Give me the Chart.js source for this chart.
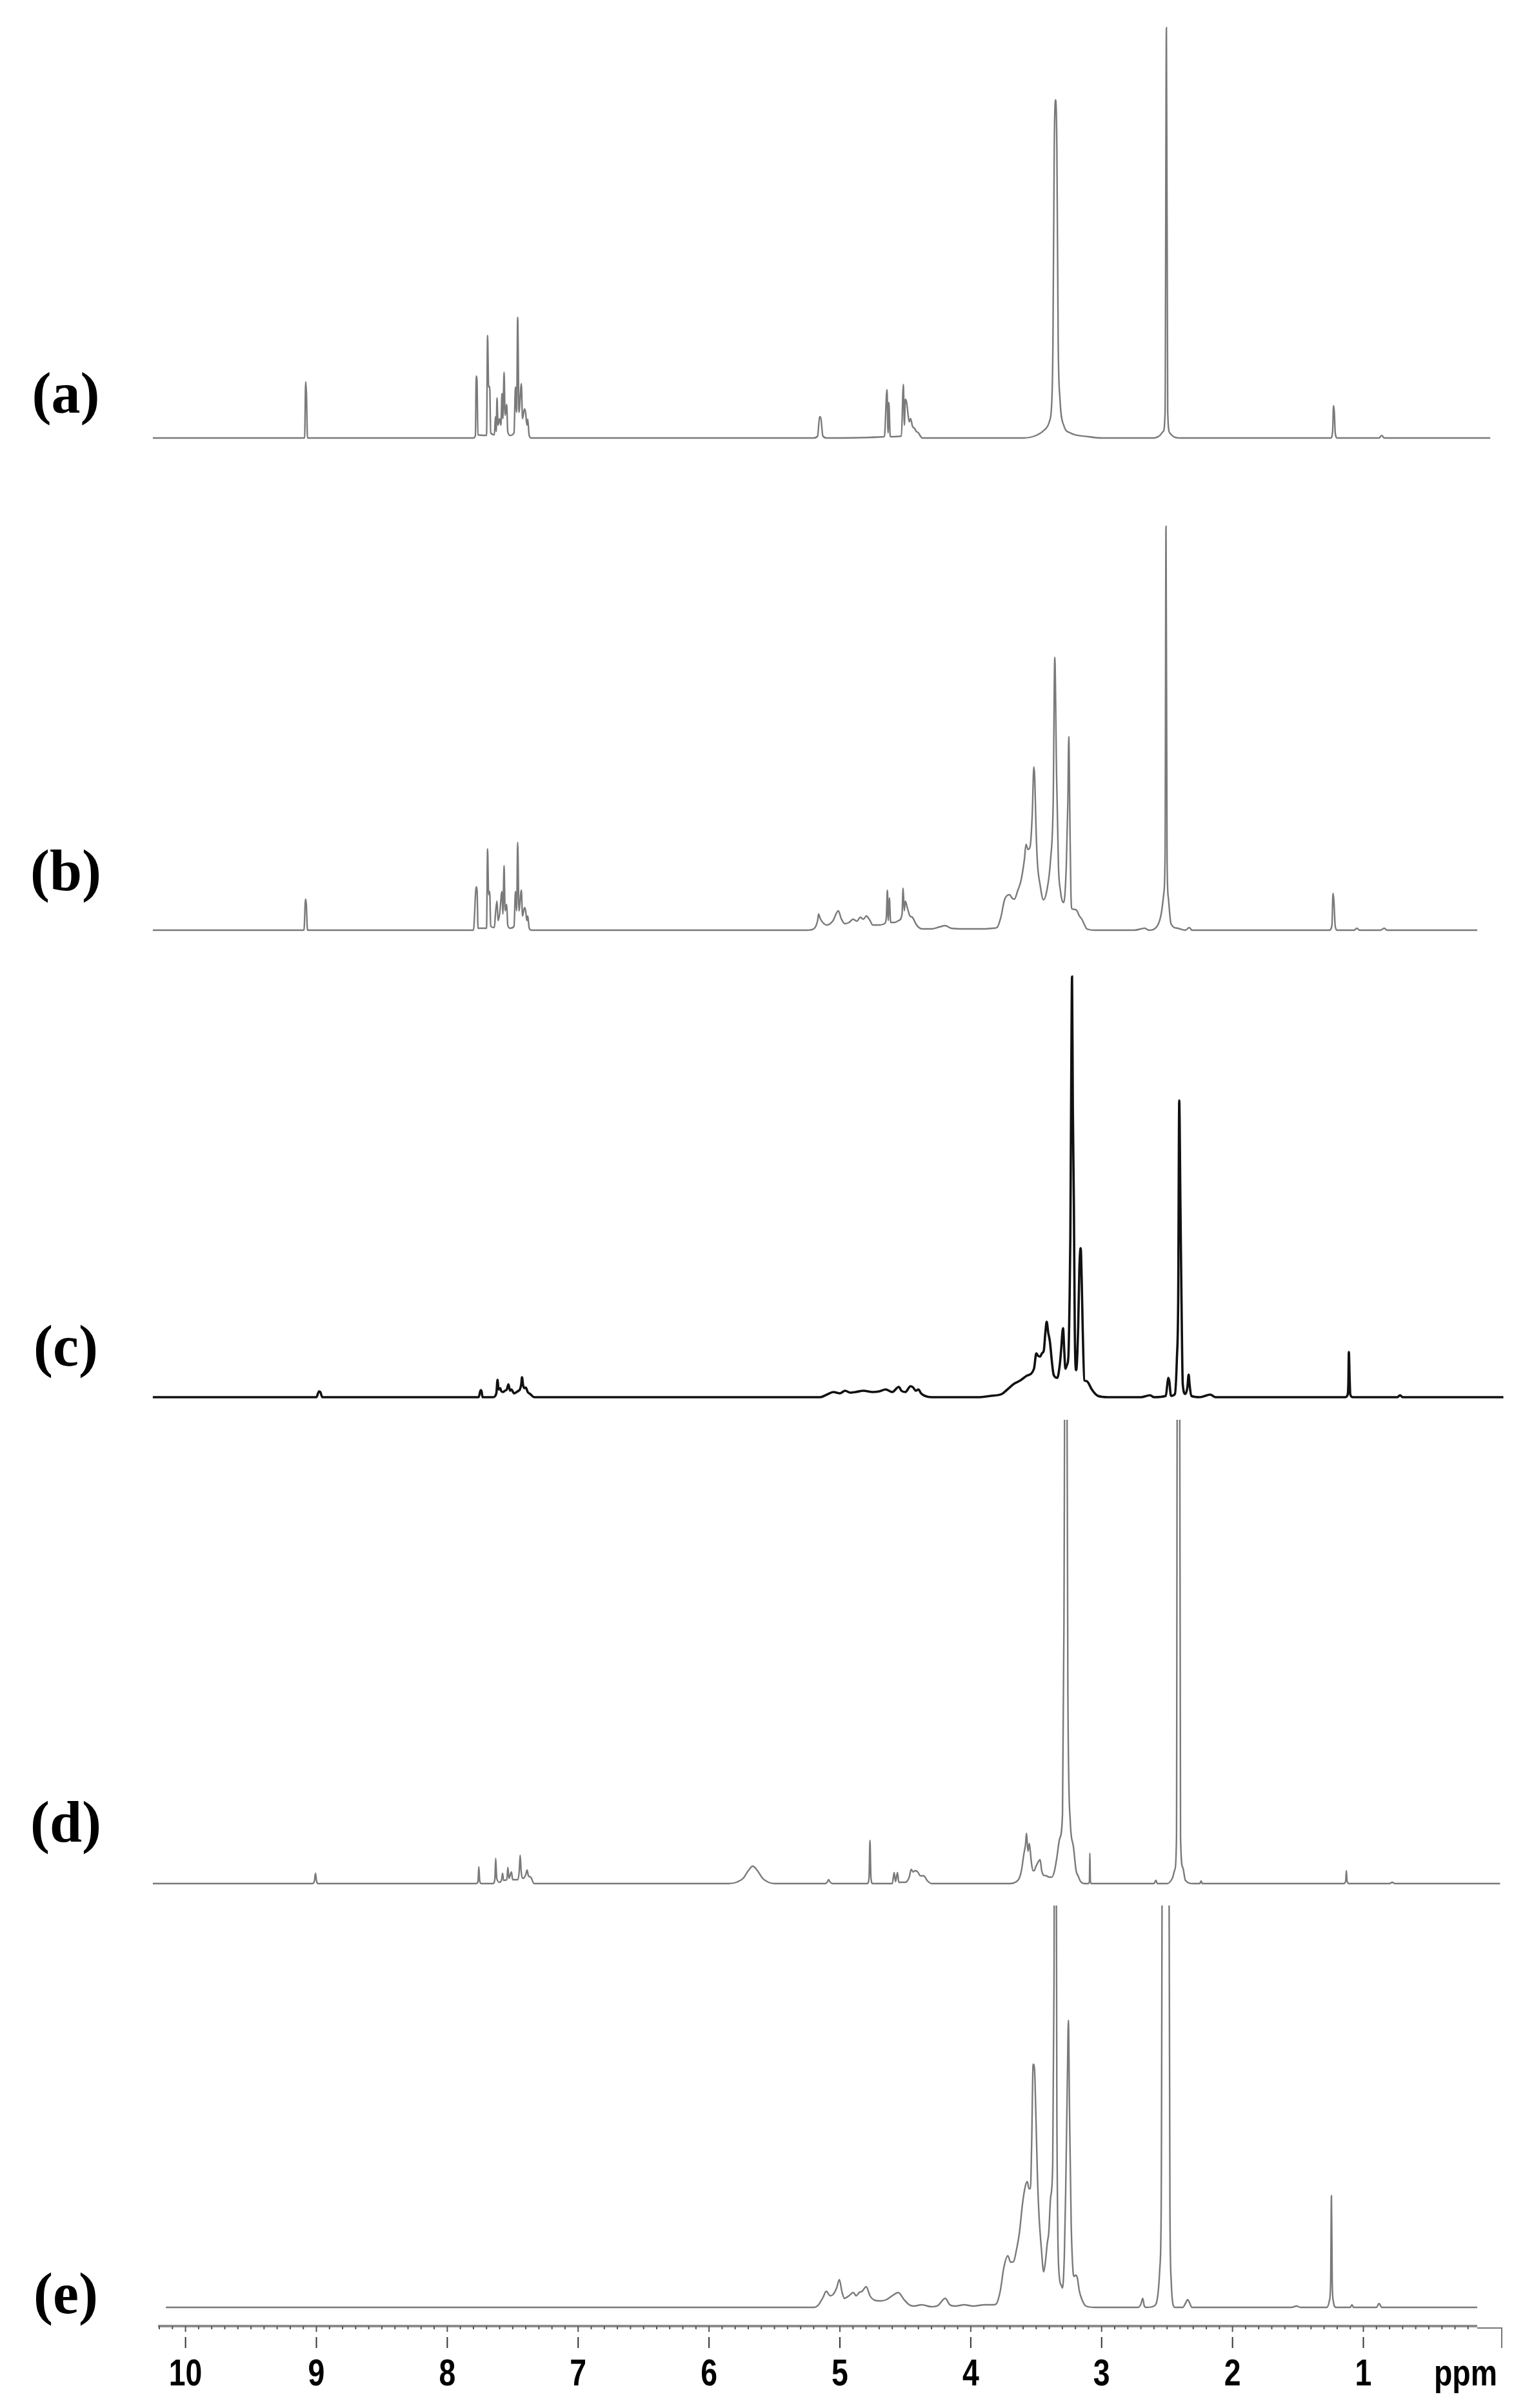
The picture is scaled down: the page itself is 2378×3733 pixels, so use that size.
<!DOCTYPE html>
<html>
<head>
<meta charset="utf-8">
<script src="https://cdn.jsdelivr.net/npm/chart.js@4"></script>
<style>
  html, body { margin: 0; padding: 0; background: #fff; }
  #wrap { width: 2378px; height: 3733px; }
</style>
</head>
<body>
<div id="wrap"><canvas id="nmr" width="2378" height="3733"></canvas></div>
<script>
// ppm / intensity pairs (intensity in image px above its baseline)
const specA = [
  [10.25,0],[9.09,0],[9.082,87],[9.076,68],[9.068,0],
  [7.80,0],[7.785,4],[7.779,96],[7.773,90],[7.766,5],
  [7.70,4],[7.692,159],[7.684,79],[7.676,80],[7.668,8],
  [7.64,5],[7.632,33],[7.626,10],[7.620,62],[7.612,20],[7.600,30],[7.590,20],[7.582,69],[7.575,30],[7.566,102],[7.558,35],[7.546,52],[7.538,10],
  [7.52,4],[7.49,8],[7.479,79],[7.470,40],[7.462,187],[7.452,40],[7.434,84],[7.425,30],[7.410,45],[7.401,39],[7.392,20],[7.385,29],[7.375,5],[7.36,0],
  [5.20,0],[5.17,3],[5.155,33],[5.145,30],[5.13,3],[5.10,0],
  [4.66,2],[4.64,75],[4.632,8],[4.626,55],[4.615,2],
  [4.53,3],[4.515,83],[4.507,20],[4.500,60],[4.490,55],[4.480,38],[4.470,25],[4.460,30],[4.445,18],[4.43,15],[4.415,10],[4.40,8],[4.385,3],[4.37,0],
  [3.60,0],[3.50,4],[3.44,12],[3.40,25],[3.38,60],[3.372,150],[3.362,450],[3.352,524],[3.342,450],[3.332,150],[3.318,60],[3.29,20],[3.24,8],[3.10,2],[3.0,0],
  [2.60,0],[2.56,3],[2.53,10],[2.515,40],[2.505,636],[2.495,40],[2.48,8],[2.45,2],[2.40,0],
  [1.25,0],[1.235,10],[1.228,50],[1.222,40],[1.215,8],[1.20,0],
  [0.88,0],[0.86,4],[0.84,0],[0.03,0]
];

const specB = [
  [10.25,0],[9.095,0],[9.083,48],[9.077,40],[9.068,0],
  [7.80,0],[7.779,67],[7.772,60],[7.765,3],
  [7.70,3],[7.692,126],[7.684,55],[7.676,60],[7.668,6],
  [7.64,4],[7.632,25],[7.620,45],[7.612,15],[7.600,25],[7.582,60],[7.575,25],[7.566,100],[7.558,30],[7.546,40],[7.538,8],
  [7.52,3],[7.49,6],[7.479,60],[7.470,30],[7.462,136],[7.452,30],[7.434,62],[7.425,22],[7.410,35],[7.401,30],[7.392,15],[7.385,22],[7.375,4],[7.36,0],
  [5.25,0],[5.20,2],[5.17,15],[5.163,25],[5.15,18],[5.131,12],[5.101,8],[5.055,14],[5.012,30],[4.99,18],[4.962,10],[4.93,12],[4.899,17],[4.87,14],[4.844,20],[4.82,17],[4.798,22],[4.77,15],[4.749,8],[4.698,8],
  [4.66,10],[4.645,20],[4.637,62],[4.630,15],[4.622,50],[4.612,12],[4.58,12],[4.55,15],[4.525,25],[4.517,65],[4.508,30],[4.500,45],[4.485,35],[4.465,22],[4.446,20],[4.42,10],[4.396,4],[4.37,2],
  [4.30,2],[4.24,5],[4.195,7],[4.15,3],[4.05,2],[3.90,2],[3.83,3],
  [3.80,4],[3.77,20],[3.742,47],[3.704,55],[3.685,50],[3.667,48],[3.64,62],[3.616,77],[3.59,110],[3.578,133],[3.562,125],[3.546,130],[3.53,180],[3.518,253],[3.512,240],[3.50,150],[3.490,103],[3.47,70],[3.445,47],
  [3.42,60],[3.39,110],[3.37,200],[3.358,423],[3.345,250],[3.33,100],[3.314,60],[3.30,45],[3.289,43],[3.27,100],[3.258,200],[3.251,300],[3.243,180],[3.235,60],[3.226,33],[3.20,32],[3.188,30],[3.17,22],[3.151,17],[3.13,8],[3.113,2],[3.05,0],
  [2.75,0],[2.67,3],[2.64,0],[2.58,5],[2.545,25],[2.525,57],[2.515,120],[2.508,626],[2.50,110],[2.49,50],[2.47,10],[2.42,3],[2.36,0],[2.33,4],[2.31,0],
  [1.26,0],[1.24,8],[1.232,57],[1.225,45],[1.215,6],[1.20,0],[1.07,0],[1.05,3],[1.03,0],[0.87,0],[0.84,3],[0.82,0],[0.13,0]
];

const specC = [
  [10.25,0],[9.00,0],[8.980,9],[8.970,8],[8.955,0],
  [7.76,0],[7.745,11],[7.738,9],[7.73,0],
  [7.65,0],[7.625,6],[7.616,27],[7.608,12],[7.595,14],[7.589,10],[7.575,8],[7.560,10],[7.545,12],[7.533,20],[7.52,10],[7.510,12],[7.49,6],[7.470,8],[7.455,10],[7.445,12],[7.435,20],[7.429,31],[7.42,18],[7.410,14],[7.400,15],[7.385,8],[7.367,5],[7.334,0],
  [5.15,0],[5.10,4],[5.05,8],[5.00,6],[4.96,10],[4.92,7],[4.88,8],[4.82,10],[4.75,8],[4.70,9],[4.65,12],[4.60,8],[4.55,16],[4.53,10],[4.50,8],[4.46,17],[4.44,15],[4.42,10],[4.40,12],[4.38,6],[4.35,2],[4.30,0],
  [3.95,0],[3.85,2],[3.762,5],[3.72,12],[3.668,21],[3.621,26],[3.574,33],[3.517,44],[3.499,68],[3.485,64],[3.470,63],[3.456,68],[3.442,72],[3.430,100],[3.420,117],[3.408,100],[3.395,86],[3.38,55],[3.367,35],[3.339,30],
  [3.32,50],[3.310,72],[3.295,107],[3.285,70],[3.277,44],[3.265,50],[3.254,63],[3.245,150],[3.239,250],[3.232,500],[3.226,652],[3.220,450],[3.212,300],[3.205,100],[3.194,42],[3.185,70],[3.179,110],[3.170,200],[3.160,231],[3.152,180],[3.145,110],[3.132,26],[3.115,25],[3.104,23],[3.075,12],[3.028,2],[2.95,0],
  [2.70,0],[2.63,3],[2.60,0],[2.51,2],[2.495,25],[2.49,30],[2.483,25],[2.47,2],[2.44,5],[2.425,60],[2.415,150],[2.407,460],[2.398,300],[2.390,156],[2.38,20],[2.36,5],[2.345,15],[2.335,35],[2.328,20],[2.315,2],[2.25,0],[2.17,4],[2.13,0],
  [1.14,0],[1.12,4],[1.115,20],[1.111,70],[1.105,30],[1.10,4],[1.08,0],[0.74,0],[0.72,3],[0.70,0],[-0.07,0]
];

const specD = [
  [10.25,0],[9.03,0],[9.015,4],[9.007,16],[9.0,5],[8.99,0],
  [7.78,0],[7.765,3],[7.759,26],[7.752,4],[7.74,0],
  [7.65,0],[7.636,8],[7.630,39],[7.622,8],[7.60,2],[7.585,6],[7.577,16],[7.57,5],[7.545,6],[7.537,25],[7.528,8],[7.510,18],[7.50,6],[7.46,6],[7.450,20],[7.443,44],[7.435,18],[7.42,8],[7.40,14],[7.390,21],[7.380,12],[7.363,10],[7.336,0],
  [5.85,0],[5.79,2],[5.74,8],[5.70,20],[5.666,27],[5.63,20],[5.59,8],[5.546,2],[5.50,0],
  [5.11,0],[5.095,3],[5.086,6],[5.077,3],[5.06,0],
  [4.79,0],[4.777,10],[4.770,67],[4.763,10],[4.75,0],
  [4.60,0],[4.585,17],[4.575,3],[4.56,17],[4.55,2],[4.50,2],[4.47,10],[4.455,22],[4.44,18],[4.425,20],[4.405,18],[4.385,12],[4.36,12],[4.33,4],[4.30,0],
  [3.70,0],[3.66,2],[3.63,8],[3.613,20],[3.595,45],[3.582,60],[3.574,78],[3.563,50],[3.553,62],[3.545,50],[3.538,35],[3.525,20],[3.515,20],[3.505,25],[3.494,30],[3.48,35],[3.470,37],[3.458,20],[3.443,13],[3.42,12],[3.404,10],
  [3.38,10],[3.36,20],[3.344,38],[3.32,70],[3.299,108],[3.288,400],[3.279,900],[3.267,900],[3.258,300],[3.24,98],[3.216,58],[3.195,20],[3.18,12],[3.16,3],[3.13,0],
  [3.10,0],[3.093,5],[3.090,47],[3.086,5],[3.08,0],
  [2.60,0],[2.585,5],[2.575,0],
  [2.50,0],[2.46,8],[2.44,22],[2.428,72],[2.421,900],[2.405,900],[2.397,72],[2.38,25],[2.36,5],[2.30,0],[2.25,0],[2.24,4],[2.23,0],
  [1.15,0],[1.135,4],[1.130,20],[1.125,4],[1.11,0],[0.80,0],[0.78,2],[0.76,0],[-0.045,0]
];

const specE = [
  [10.15,0],[5.20,0],[5.167,3],[5.13,15],[5.104,25],[5.075,18],[5.052,20],[5.025,30],[5.004,43],[4.985,25],[4.966,14],[4.93,18],[4.898,23],[4.875,18],[4.853,23],[4.83,25],[4.799,32],[4.77,18],[4.733,11],[4.69,10],[4.644,12],[4.60,18],[4.554,23],[4.51,12],[4.47,4],[4.435,2],[4.375,4],[4.30,1],[4.25,3],[4.195,14],[4.16,4],[4.12,2],[4.05,4],[3.98,2],[3.896,4],[3.83,4],[3.807,5],
  [3.775,25],[3.747,62],[3.717,80],[3.695,70],[3.673,71],[3.65,90],[3.628,116],[3.605,160],[3.583,188],[3.568,195],[3.555,184],[3.544,184],[3.535,250],[3.523,377],[3.513,370],[3.502,295],[3.49,200],[3.478,141],[3.46,90],[3.443,55],
  [3.43,70],[3.415,100],[3.404,116],[3.39,170],[3.374,220],[3.364,500],[3.357,1000],[3.350,1000],[3.342,300],[3.322,45],[3.31,35],[3.299,30],[3.285,80],[3.275,177],[3.262,350],[3.254,445],[3.245,300],[3.233,134],[3.22,60],[3.21,48],[3.198,50],[3.186,46],[3.17,25],[3.150,12],[3.12,2],[3.05,0],
  [2.72,0],[2.70,5],[2.686,14],[2.675,3],[2.66,0],[2.60,2],[2.57,20],[2.555,62],[2.545,150],[2.532,1000],[2.49,1000],[2.478,150],[2.468,40],[2.455,5],[2.44,0],
  [2.38,0],[2.355,8],[2.343,12],[2.33,8],[2.31,0],[1.55,0],[1.51,2],[1.48,0],
  [1.28,0],[1.26,10],[1.25,40],[1.244,173],[1.238,40],[1.23,10],[1.21,0],[1.10,0],[1.087,4],[1.075,0],[0.90,0],[0.88,6],[0.86,0],[0.13,0]
];

const traceLabels = ["(a)", "(b)", "(c)", "(d)", "(e)"];
const xTickValues = [10, 9, 8, 7, 6, 5, 4, 3, 2, 1];
const xTickLabels = ["10", "9", "8", "7", "6", "5", "4", "3", "2", "1"];
const xUnit = "ppm";

// layout (canvas px)
const AREA_TOP = 0;
const AREA_BOTTOM = 3606;
const baselines = [679, 1442, 2166, 2920, 3577];
const clipTops = [null, null, null, 2201, 2954];
const labelY = [617, 1357, 2094, 2832, 3563];
const lineColors = ["#7a7a7a", "#7a7a7a", "#111111", "#7a7a7a", "#7a7a7a"];
const lineWidths = [2.4, 2.4, 3.6, 2.4, 2.4];

const spectra = [specA, specB, specC, specD, specE];

const datasets = spectra.map((spec, i) => ({
  label: traceLabels[i],
  data: spec.map(([x, y]) => ({ x, y })),
  yAxisID: "y" + i,
  showLine: true,
  borderColor: lineColors[i],
  borderWidth: lineWidths[i],
  pointRadius: 0,
  cubicInterpolationMode: "monotone",
  clip: clipTops[i] === null
    ? false
    : { left: false, right: false, bottom: false, top: -(clipTops[i] - AREA_TOP) }
}));

const scales = {
  x: {
    type: "linear",
    reverse: true,
    min: 0.13,
    max: 10.21,
    display: false
  }
};
baselines.forEach((b, i) => {
  scales["y" + i] = {
    type: "linear",
    display: false,
    min: -(AREA_BOTTOM - b),
    max: b - AREA_TOP
  };
});

// condensed bold label, like the original's narrow face
function narrowText(ctx, text, x, y, squeeze) {
  ctx.save();
  ctx.translate(x, y);
  ctx.scale(squeeze, 1);
  ctx.fillText(text, 0, 0);
  ctx.restore();
}

// axis with minor ticks, integer marks and labels, plus the trace tags
const ppmAxis = {
  id: "ppmAxis",
  afterDraw(chart) {
    const ctx = chart.ctx;
    const xs = chart.scales.x;
    const y0 = chart.chartArea.bottom;
    ctx.save();

    ctx.strokeStyle = "#8c8c8c";
    ctx.lineWidth = 4;
    ctx.beginPath();
    ctx.moveTo(xs.left, y0);
    ctx.lineTo(xs.right, y0);
    ctx.stroke();

    ctx.strokeStyle = "#555";
    ctx.lineWidth = 2;
    for (let i = 102; i >= 2; i--) {
      const px = xs.getPixelForValue(i / 10);
      const len = i % 10 === 0 ? 9 : 5;
      ctx.beginPath();
      ctx.moveTo(px, y0);
      ctx.lineTo(px, y0 + len);
      ctx.stroke();
    }

    ctx.strokeStyle = "#333";
    ctx.lineWidth = 2;
    xTickValues.forEach(v => {
      const px = xs.getPixelForValue(v);
      ctx.beginPath();
      ctx.moveTo(px, y0 + 17);
      ctx.lineTo(px, y0 + 34);
      ctx.stroke();
    });

    ctx.fillStyle = "#000";
    ctx.font = "bold 58px 'Liberation Sans', Arial, sans-serif";
    ctx.textAlign = "center";
    ctx.textBaseline = "alphabetic";
    xTickValues.forEach((v, i) => {
      narrowText(ctx, xTickLabels[i], xs.getPixelForValue(v), y0 + 92, 0.8);
    });
    narrowText(ctx, xUnit, 2272, y0 + 92, 0.8);

    // right end bracket
    ctx.strokeStyle = "#777";
    ctx.lineWidth = 2;
    ctx.beginPath();
    ctx.moveTo(xs.right, y0 + 3);
    ctx.lineTo(xs.right + 38, y0 + 3);
    ctx.lineTo(xs.right + 38, y0 + 34);
    ctx.stroke();

    ctx.font = "bold 90px 'Liberation Serif', 'Times New Roman', serif";
    ctx.textBaseline = "middle";
    traceLabels.forEach((t, i) => {
      ctx.fillText(t, 102, labelY[i]);
    });
    ctx.restore();
  }
};

new Chart(document.getElementById("nmr"), {
  type: "scatter",
  data: { datasets },
  options: {
    responsive: false,
    animation: false,
    devicePixelRatio: 1,
    layout: { padding: { left: 245, right: 2378 - 2290, top: AREA_TOP, bottom: 3733 - AREA_BOTTOM } },
    scales,
    plugins: { legend: { display: false }, tooltip: { enabled: false } }
  },
  plugins: [ppmAxis]
});
</script>
</body>
</html>
